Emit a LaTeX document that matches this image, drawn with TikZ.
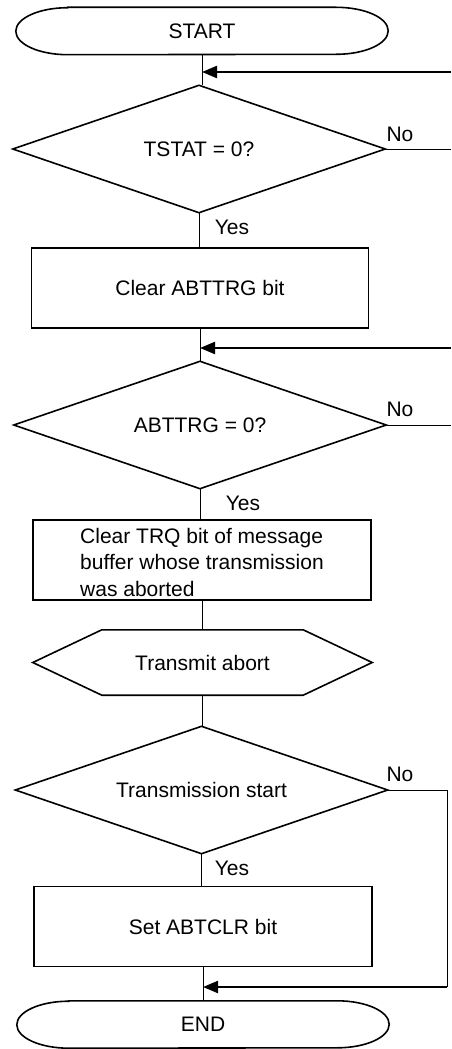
\documentclass[tikz,border=0pt]{standalone}
\usepackage{fontspec}
\setmainfont{Liberation Sans}
\usetikzlibrary{shapes.geometric,shapes.misc,arrows.meta,calc}
\begin{document}
\begin{tikzpicture}[x=1pt,y=-1pt,
  every node/.style={font=\fontsize{21}{26.5}\selectfont},
  term/.style={rectangle, minimum width=372pt, minimum height=47pt, inner sep=0pt},
  proc/.style={rectangle, draw, line width=1.6pt, minimum width=337pt, minimum height=80pt, inner sep=0pt},
  dec/.style={rectangle, minimum width=372pt, minimum height=127pt, inner sep=0pt},
  outline/.style={line width=1.6pt, line join=miter},
  conn/.style={line width=1pt},
  back/.style={line width=2.2pt, -{Triangle[length=15pt,width=12pt]}},
  lbl/.style={inner sep=0pt}
]
\useasboundingbox (0,0) rectangle (451,1049);
\node[term] (start) at (202,31) {START};
\node[dec] (d1) at (199,149) {TSTAT = 0?};
\node[proc] (b1) at (200,288) {Clear ABTTRG bit};
\node[dec] (d2) at (200,425) {ABTTRG = 0?};
\node[proc, minimum width=338pt] (b2) at (202,560) {};
\node[align=left, inner sep=0pt] (b2t) at (202,562) {Clear TRQ bit of message\\buffer whose transmission\\was aborted};
\node[minimum width=339pt, minimum height=65pt, inner sep=0pt] (hex) at (202.5,662.5) {Transmit abort};
\node[dec] (d3) at (201.5,790) {Transmission start};
\node[proc, minimum width=338pt] (b3) at (203,926.5) {Set ABTCLR bit};
\node[term] (end) at (203,1024.5) {END};

% terminal outlines (flat sides, half-elliptic ends)
\foreach \t in {start,end}
  \draw[outline] ($(\t.north west)+(52,0)$) -- ($(\t.north east)+(-52,0)$)
    arc[start angle=90, end angle=-90, x radius=52pt, y radius=23.5pt]
    -- ($(\t.south west)+(52,0)$)
    arc[start angle=270, end angle=90, x radius=52pt, y radius=23.5pt] -- cycle;
% outlines of decisions and preparation
\foreach \d in {d1,d2,d3}
  \draw[outline] (\d.north) -- (\d.east) -- (\d.south) -- (\d.west) -- cycle;
\draw[outline] (hex.west) -- ($(hex.north west)+(69,0)$) -- ($(hex.north east)+(-69,0)$) -- (hex.east) -- ($(hex.south east)+(-69,0)$) -- ($(hex.south west)+(69,0)$) -- cycle;

% junction coordinates
\coordinate (j1) at (start.south |- 0,72);
\coordinate (j2) at (b1.south |- 0,348);
\coordinate (j3) at (b3.south |- 0,987);
\coordinate (in1) at (451,72);
\coordinate (in2) at (451,348);
\coordinate (o1) at (451,149);
\coordinate (o2) at (451,425);
\coordinate (c1) at (447,790);
\coordinate (c2) at (447,987);

\draw[conn] (start.south) -- (start.south |- d1.north);
\draw[conn] (d1.south) -- (d1.south |- b1.north);
\draw[conn] (b1.south) -- (b1.south |- d2.north);
\draw[conn] (d2.south) -- (d2.south |- b2.north);
\draw[conn] (b2.south) -- (b2.south |- hex.north);
\draw[conn] (hex.south) -- (hex.south |- d3.north);
\draw[conn] (d3.south) -- (d3.south |- b3.north);
\draw[conn] (b3.south) -- (b3.south |- end.north);

\draw[back] (in1) -- (j1);
\draw[back] (in2) -- (j2);
\draw[conn] (d1.east) -- (o1);
\draw[conn] (d2.east) -- (o2);
\draw[conn] (d3.east) -- (c1) -- (c2);
\draw[back] (c2) -- (j3);

\node[lbl] (no1) at (400,134) {No};
\node[lbl] (no2) at (400,409) {No};
\node[lbl] (no3) at (400,774) {No};
\node[lbl] (yes1) at (232,227) {Yes};
\node[lbl] (yes2) at (243,503) {Yes};
\node[lbl] (yes3) at (232,868) {Yes};
\end{tikzpicture}
\end{document}
